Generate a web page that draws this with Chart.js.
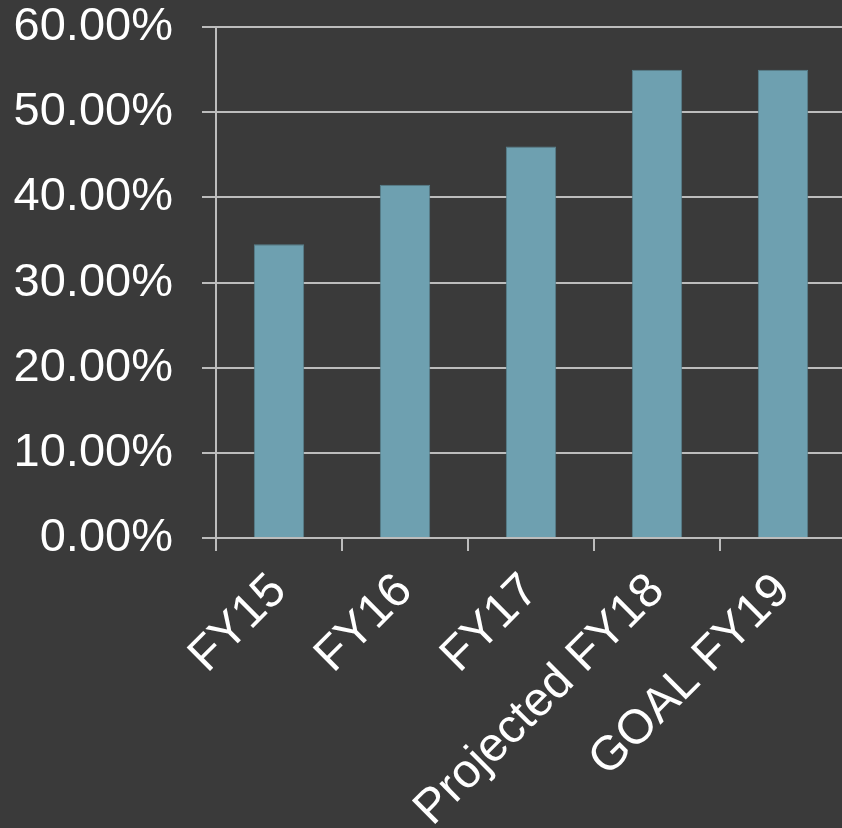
<!DOCTYPE html>
<html>
<head>
<meta charset="utf-8">
<script src="https://cdn.jsdelivr.net/npm/chart.js@4/dist/chart.umd.min.js"></script>
<style>
    html, body { margin: 0; padding: 0; background: #3a3a3a; overflow: hidden; }
    /* canvas is a bit larger than the page and shifted up so the 60% line sits near the top */
    #wrap { width: 846px; height: 858px; margin-top: -30px; }
</style>
</head>
<body>
<div id="wrap"><canvas id="share_chart"></canvas></div>
<script>
const categories = ["FY15", "FY16", "FY17", "Projected FY18", "GOAL FY19"]
const share_values = [34.5, 41.5, 46.0, 55.0, 55.0]
const y_ticks = [0, 10, 20, 30, 40, 50, 60]

const grid_color = "#bcbcbc"
const font_family = "Liberation Sans, Arial, sans-serif"

Chart.defaults.color = "#ffffff"

new Chart(document.getElementById("share_chart").getContext("2d"), {
    type: "bar",
    data: {
        labels: categories,
        datasets: [
            {
                data: share_values,
                backgroundColor: "#6ea0b0",
                borderColor: "#58808d",
                borderWidth: 1,
                barPercentage: 0.4,
                categoryPercentage: 1.0,
            },
        ]
    },
    options: {
        responsive: true,
        maintainAspectRatio: false,
        animation: false,
        layout: { padding: { left: 14, top: 0, right: 0, bottom: 0 } },
        plugins: {
            legend: { display: false },
            tooltip: { enabled: false },
        },
        scales: {
            x: {
                grid: {
                    offset: true,
                    drawOnChartArea: false,
                    color: grid_color,
                    lineWidth: 2,
                    tickLength: 13,
                },
                border: { color: grid_color, width: 2 },
                ticks: {
                    font: { family: font_family, size: 48 },
                    color: "#ffffff",
                    minRotation: 45,
                    maxRotation: 45,
                    padding: 12,
                },
                afterFit: scale => { scale.height = 290 },
            },
            y: {
                min: 0,
                max: 60,
                afterBuildTicks: scale => { scale.ticks = y_ticks.map(v => ({ value: v })) },
                grid: {
                    color: grid_color,
                    lineWidth: 2,
                    tickLength: 14,
                },
                border: { color: grid_color, width: 2 },
                ticks: {
                    font: { family: font_family, size: 47 },
                    color: "#ffffff",
                    padding: 29,
                    callback: v => v.toFixed(2) + "%",
                },
                afterFit: scale => { scale.width = 202 },
            }
        }
    }
})
</script>
</body>
</html>
